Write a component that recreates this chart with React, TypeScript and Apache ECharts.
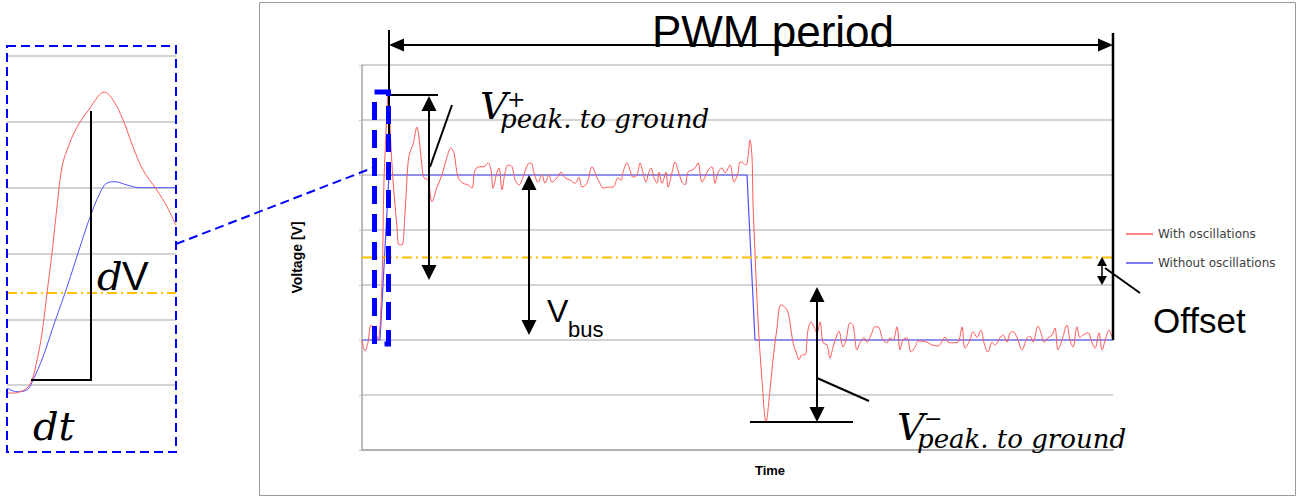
import React, { useEffect, useRef } from "react";
import * as echarts from "echarts";

// ---------- data (time in ns, voltage in V) ----------
const redTime = [0,3,6,9,12,16,20,22,25,26,29,31,35,37,40,43,46,48,51,55,57,60,62,66,70,75,80,85,89,92,96,101,106,110,113,118,122,126,129,131,135,137,140,143,146,150,153,157,161,166,169,172,176,180,183,187,190,195,199,203,208,213,217,220,225,230,235,238,241,246,251,256,259,261,265,268,271,275,278,281,284,286,289,292,295,297,300,304,306,310,313,316,320,323,326,330,333,336,340,343,346,350,353,356,360,363,368,372,376,378,381,384,386,388,390,391,393,396,400,404,408,411,415,419,425,428,431,435,437,440,443,446,449,452,455,458,461,465,468,471,475,477,481,484,488,491,495,498,502,505,509,513,516,521,525,528,531,535,538,541,545,549,553,556,560,565,570,576,583,587,591,596,600,603,608,611,615,619,622,626,630,633,638,641,645,648,651,655,660,665,668,671,676,679,682,686,690,693,696,700,705,708,711,715,718,721,726,730,733,737,740,744,747,750];
const redVolt = [200,180,196,227,222,200,309,491,613,651,551,491,405,373,373,431,522,542,555,587,569,515,495,491,451,478,500,533,549,540,496,485,482,476,509,515,515,522,509,476,505,513,473,504,518,515,491,482,496,520,522,504,487,500,485,500,487,495,505,495,491,485,496,478,485,515,495,485,476,478,478,495,490,505,522,509,496,500,522,504,487,500,513,495,485,505,485,505,478,504,524,509,487,482,505,509,513,522,487,496,509,515,485,504,513,504,518,487,504,524,522,518,533,564,533,449,358,236,127,51,109,164,222,264,255,231,195,173,164,173,173,218,233,224,213,233,195,191,167,187,209,216,187,200,231,227,182,195,204,196,209,224,224,200,195,204,200,224,182,200,204,178,187,198,198,196,191,189,205,195,195,196,224,185,200,215,205,218,195,178,196,191,204,209,196,213,215,205,182,204,207,196,225,213,196,204,209,222,182,200,227,200,187,224,204,209,213,195,185,213,182,205,218,205];

const blueTime = [0,18,27,385,393,751];
const blueVolt = [200,200,500,500,200,200];

const offsetLevel = 350;

// zoomed view (time in 0.1 ns steps)
const insetRedTime = [0,6,13,20,25,30,35,40,45,50,55,60,70,83,93,97,106,116,126,136,150,160,169];
const insetRedVolt = [188,188,190,196,208,238,279,340,401,471,531,557,592,621,642,645,633,603,562,527,496,471,443];
const insetBlueTime = [0,10,20,26,36,46,60,73,83,93,100,108,120,133,169];
const insetBlueVolt = [196,190,193,208,243,288,349,410,455,492,507,509,504,500,500];
const insetOffsetLevel = 340;

const legendNames = ["With oscillations", "Without oscillations"];

const zip = (a: number[], b: number[]) => a.map((t, i) => [t, b[i]]);

const SANS = "'Liberation Sans', Arial, sans-serif";
const MATH = "'DejaVu Serif', serif";
const RED = "#ff5a5a";
const BLUE = "#4f4fff";
const GRID = "#c4c4c4";

function vArrow(x: number, y1: number, y2: number, head = 15, hw = 7.5, lw = 2) {
  return [
    { type: "line", z: 100, shape: { x1: x, y1: y1 + head * 0.6, x2: x, y2: y2 - head * 0.6 }, style: { stroke: "#000", lineWidth: lw } },
    { type: "polygon", z: 100, shape: { points: [[x, y1], [x - hw, y1 + head], [x + hw, y1 + head]] }, style: { fill: "#000" } },
    { type: "polygon", z: 100, shape: { points: [[x, y2], [x - hw, y2 - head], [x + hw, y2 - head]] }, style: { fill: "#000" } },
  ];
}
function hArrow(y: number, x1: number, x2: number, head = 15, hw = 6.5, lw = 2) {
  return [
    { type: "line", z: 100, shape: { x1: x1 + head * 0.6, y1: y, x2: x2 - head * 0.6, y2: y }, style: { stroke: "#000", lineWidth: lw } },
    { type: "polygon", z: 100, shape: { points: [[x1, y], [x1 + head, y - hw], [x1 + head, y + hw]] }, style: { fill: "#000" } },
    { type: "polygon", z: 100, shape: { points: [[x2, y], [x2 - head, y - hw], [x2 - head, y + hw]] }, style: { fill: "#000" } },
  ];
}
function seg(x1: number, y1: number, x2: number, y2: number, lw = 2, stroke = "#000", dash?: number[]) {
  return { type: "line", z: 100, shape: { x1, y1, x2, y2 }, style: { stroke, lineWidth: lw, lineDash: dash } };
}
function txt(text: string, x: number, y: number, size: number, family: string, italic = false, align = "left", weight = "normal") {
  return {
    type: "text", z: 100, x, y,
    style: { text, fontSize: size, fontFamily: family, fontStyle: italic ? "italic" : "normal", fontWeight: weight, fill: "#000", align, verticalAlign: "middle" },
  };
}
// V with superscript sign and subscript, as in a math formula
function peakLabel(sign: string, x: number, yV: number, ySign: number, ySub: number) {
  return [
    txt("V", x, yV, 38, MATH, true),
    txt(sign, x + 27, ySign, 22, MATH, false),
    txt("peak. to ground", x + 20, ySub, 26, MATH, true),
  ];
}

export default function App() {
  const ref = useRef<HTMLDivElement>(null);
  useEffect(() => {
    document.body.style.margin = "0";
    if (!ref.current) return;
    const chart = echarts.init(ref.current, undefined, { renderer: "svg" });
    const graphic: any[] = [
      { type: "rect", z: 0, shape: { x: 259.5, y: 2.5, width: 1036, height: 493 }, style: { fill: "none", stroke: "#9a9a9a", lineWidth: 1 } },
      // PWM period
      seg(389, 30, 389, 152),
      seg(1113, 33, 1113, 340, 2.5),
      ...hArrow(45, 389, 1113),
      txt("PWM period", 773, 31, 44, SANS, false, "center"),
      // V+ peak
      seg(389, 95, 438, 95),
      ...vArrow(429, 96, 280),
      seg(430, 167, 452, 105),
      ...peakLabel("+", 480, 106, 99, 119),
      // Vbus
      ...vArrow(529, 175, 335),
      txt("V", 547, 311, 32, SANS),
      txt("bus", 568, 329, 22, SANS),
      // V- peak
      seg(750, 422, 853, 422),
      ...vArrow(817, 287, 422),
      seg(817, 378, 869, 401),
      ...peakLabel("\u2212", 897, 427, 418, 439),
      // Offset
      ...vArrow(1102, 257, 285, 9, 5, 1.5),
      seg(1105, 268, 1140, 293),
      txt("Offset", 1153, 320, 35, SANS),
      // Time label
      txt("Time", 770, 470, 13, SANS, false, "center", "bold"),
      // zoom boxes
      { type: "rect", z: 101, shape: { x: 374.5, y: 92, width: 14, height: 252 }, style: { fill: "none", stroke: "#0000ff", lineWidth: 5, lineDash: [18, 10] } },
      { type: "rect", z: 101, shape: { x: 7, y: 46, width: 169, height: 406 }, style: { fill: "none", stroke: "#0000ff", lineWidth: 2, lineDash: [9, 5] } },
      seg(176, 244, 375, 167, 2, "#0000ff", [9, 5]),
      // inset dV / dt
      seg(91, 111, 91, 381),
      seg(31, 380, 92, 380),
      txt("d", 97, 276, 40, MATH, true),
      txt("V", 122, 276, 40, SANS),
      txt("dt", 33, 426, 40, MATH, true),
    ];

    chart.setOption({
      animation: false,
      backgroundColor: "#ffffff",
      legend: {
        data: legendNames.map((n) => ({ name: n, icon: "rect" })),
        orient: "vertical",
        left: 1126,
        top: 228,
        padding: 0,
        itemWidth: 27,
        itemHeight: 1.5,
        itemGap: 17,
        textStyle: { fontSize: 12, fontFamily: "'DejaVu Sans', sans-serif", color: "#404040" },
      },
      grid: [
        { left: 362, top: 65, width: 751, height: 385 },
        { left: 7, top: 56, width: 169, height: 395 },
      ],
      xAxis: [
        { type: "value", gridIndex: 0, min: 0, max: 751, axisLine: { show: true, onZero: false, lineStyle: { color: "#a6a6a6", width: 1.5 } }, axisTick: { show: false }, axisLabel: { show: false }, splitLine: { show: false } },
        { type: "value", gridIndex: 1, min: 0, max: 169, axisLine: { show: false }, axisTick: { show: false }, axisLabel: { show: false }, splitLine: { show: false } },
      ],
      yAxis: [
        {
          type: "value", gridIndex: 0, min: 0, max: 700, interval: 100,
          name: "Voltage [V]", nameLocation: "middle", nameGap: 58, nameRotate: 90,
          nameTextStyle: { fontSize: 14, fontWeight: "bold", fontFamily: SANS, color: "#000" },
          axisLine: { show: true, lineStyle: { color: "#a6a6a6", width: 1.5 } },
          axisTick: { show: true, length: 3, lineStyle: { color: GRID } },
          axisLabel: { show: false },
          splitLine: { show: true, lineStyle: { color: GRID, width: 1.5 } },
        },
        {
          type: "value", gridIndex: 1, min: 100, max: 700, interval: 100,
          axisLine: { show: false }, axisTick: { show: false }, axisLabel: { show: false },
          splitLine: { show: true, showMinLine: false, lineStyle: { color: GRID, width: 1.5 } },
        },
      ],
      series: [
        { type: "line", name: legendNames[0], xAxisIndex: 0, yAxisIndex: 0, data: zip(redTime, redVolt), symbol: "none", smooth: 0.35, lineStyle: { color: RED, width: 1 }, itemStyle: { color: RED }, z: 3 },
        { type: "line", name: legendNames[1], xAxisIndex: 0, yAxisIndex: 0, data: zip(blueTime, blueVolt), symbol: "none", lineStyle: { color: BLUE, width: 1.2 }, itemStyle: { color: BLUE }, z: 2 },
        { type: "line", name: "Offset", xAxisIndex: 0, yAxisIndex: 0, data: [[0, offsetLevel], [751, offsetLevel]], symbol: "none", lineStyle: { color: "#ffc000", width: 2, type: [10, 4, 2, 4] }, z: 2 },
        { type: "line", name: legendNames[0], xAxisIndex: 1, yAxisIndex: 1, data: zip(insetRedTime, insetRedVolt), symbol: "none", smooth: 0.4, lineStyle: { color: RED, width: 1 }, itemStyle: { color: RED }, z: 3 },
        { type: "line", name: legendNames[1], xAxisIndex: 1, yAxisIndex: 1, data: zip(insetBlueTime, insetBlueVolt), symbol: "none", smooth: 0.4, lineStyle: { color: BLUE, width: 1 }, itemStyle: { color: BLUE }, z: 2 },
        { type: "line", name: "Offset zoom", xAxisIndex: 1, yAxisIndex: 1, data: [[0, insetOffsetLevel], [169, insetOffsetLevel]], symbol: "none", lineStyle: { color: "#ffc000", width: 2, type: [10, 4, 2, 4] }, z: 2 },
      ],
      graphic,
    });
    return () => chart.dispose();
  }, []);
  return <div ref={ref} style={{ width: 1298, height: 498 }} />;
}
